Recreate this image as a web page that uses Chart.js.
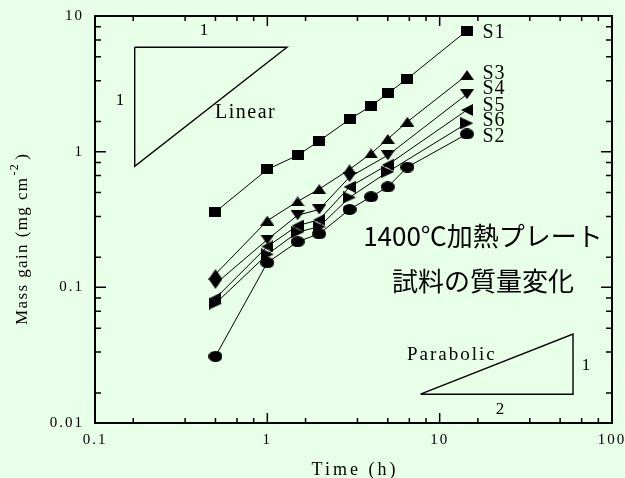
<!DOCTYPE html>
<html><head><meta charset="utf-8">
<script src="https://cdn.jsdelivr.net/npm/chart.js@4/dist/chart.umd.min.js"></script>
<style>html,body{margin:0;padding:0;background:#E8FFE8;overflow:hidden}</style>
</head><body>
<canvas id="c" width="625" height="478" style="width:625px;height:478px;display:block"></canvas>
<script>
// ---- data ----
const timesFull  = [0.5, 1, 1.5, 2, 3, 4, 5, 6.5, 14.4];
const timesShort = [0.5, 1, 1.5, 2, 3, 5, 14.4];
const s1 = [0.36, 0.74, 0.94, 1.20, 1.73, 2.17, 2.69, 3.45, 7.8];
const s2 = [0.031, 0.152, 0.217, 0.248, 0.375, 0.465, 0.55, 0.77, 1.35];
const s3 = [0.125, 0.31, 0.43, 0.53, 0.74, 0.97, 1.24, 1.66, 3.67];
const s4 = [0.106, 0.225, 0.34, 0.375, 0.65, 0.94, 2.65];
const s5 = [0.083, 0.20, 0.285, 0.315, 0.55, 0.80, 2.03];
const s6 = [0.076, 0.175, 0.255, 0.28, 0.46, 0.71, 1.62];
const seriesNames = ['S1', 'S2', 'S3', 'S4', 'S5', 'S6'];
const linearTriX = [0.17, 1.30, 0.17, 0.17];
const linearTriY = [5.88, 5.88, 0.78, 5.88];
const paraTriX = [7.74, 59.4, 59.4, 7.74];
const paraTriY = [0.0163, 0.0163, 0.0452, 0.0163];
const xTickValues = [0.1, 1, 10, 100];
const xTickLabels = ['0.1', '1', '10', '100'];
const yTickValues = [0.01, 0.1, 1, 10];
const yTickLabels = ['0.01', '0.1', '1', '10'];
const minorMults = [5/3, 10/3, 5, 20/3, 25/3];
const titleLine1 = '1400\u2103加熱プレート';
const titleLine2 = '試料の質量変化';

const SERIF = "'Liberation Serif', 'Times New Roman', serif";

function marker(kind, w, h) {
  const c = document.createElement('canvas');
  c.width = w; c.height = h;
  const g = c.getContext('2d');
  g.fillStyle = '#000';
  g.beginPath();
  if (kind === 'square') { g.rect(0, 0, w, h); }
  else if (kind === 'circle') { g.ellipse(w/2, h/2, w/2, h/2, 0, 0, Math.PI*2); }
  else if (kind === 'up') { g.moveTo(w/2, 0); g.lineTo(w, h); g.lineTo(0, h); }
  else if (kind === 'down') { g.moveTo(0, 0); g.lineTo(w, 0); g.lineTo(w/2, h); }
  else if (kind === 'left') { g.moveTo(0, h/2); g.lineTo(w, 0); g.lineTo(w, h); }
  else if (kind === 'right') { g.moveTo(0, 0); g.lineTo(w, h/2); g.lineTo(0, h); }
  g.closePath(); g.fill();
  return c;
}

function pts(xs, ys) { return xs.map((x, i) => ({x: x, y: ys[i]})); }

function series(name, xs, ys, style) {
  return { label: name, data: pts(xs, ys), showLine: true, borderColor: '#000', borderWidth: 1,
           pointStyle: style, pointRadius: 6, pointHoverRadius: 6, fill: false };
}
function guide(xs, ys) {
  return { label: '', data: pts(xs, ys), showLine: true, borderColor: '#000', borderWidth: 1.4,
           pointRadius: 0, pointHoverRadius: 0, fill: false };
}

const annot = {
  id: 'annot',
  beforeDraw(chart) {
    const ctx = chart.ctx;
    ctx.save();
    ctx.fillStyle = '#E8FFE8';
    ctx.fillRect(0, 0, chart.width, chart.height);
    ctx.restore();
    ctx.letterSpacing = '2px';
  },
  afterDraw(chart) {
    const {ctx, chartArea: a, scales: {x, y}} = chart;
    ctx.save();
    ctx.strokeStyle = '#000';
    // frame
    ctx.lineWidth = 2;
    ctx.strokeRect(a.left, a.top, a.right - a.left, a.bottom - a.top);
    // inward ticks
    ctx.lineWidth = 1.5;
    ctx.beginPath();
    const xt = [];
    for (let d = -1; d <= 2; d++) { xt.push([Math.pow(10, d), 10]); if (d < 2) minorMults.forEach(m => xt.push([m * Math.pow(10, d), 5])); }
    xt.forEach(([v, len]) => {
      const px = x.getPixelForValue(v);
      ctx.moveTo(px, a.bottom); ctx.lineTo(px, a.bottom - len);
      ctx.moveTo(px, a.top); ctx.lineTo(px, a.top + len);
    });
    const yt = [];
    for (let d = -2; d <= 1; d++) { yt.push([Math.pow(10, d), 11]); if (d < 1) minorMults.forEach(m => yt.push([m * Math.pow(10, d), 6])); }
    yt.forEach(([v, len]) => {
      const py = y.getPixelForValue(v);
      ctx.moveTo(a.left, py); ctx.lineTo(a.left + len, py);
      ctx.moveTo(a.right, py); ctx.lineTo(a.right - len, py);
    });
    ctx.stroke();

    ctx.fillStyle = '#000';
    ctx.textBaseline = 'alphabetic';
    // x title
    ctx.font = '18px ' + SERIF; ctx.letterSpacing = '3px'; ctx.textAlign = 'center';
    ctx.fillText('Time (h)', (a.left + a.right) / 2 + 1.5, 475);
    // y title with superscript
    ctx.save();
    ctx.translate(27, 325); ctx.rotate(-Math.PI / 2);
    ctx.textAlign = 'left';
    ctx.font = '17px ' + SERIF; ctx.letterSpacing = '1.4px';
    const t1 = 'Mass gain (mg cm';
    ctx.fillText(t1, 0, 0);
    const w1 = ctx.measureText(t1).width;
    ctx.font = '12px ' + SERIF;
    ctx.fillText('-2', w1 + 1, -9.5);
    const w2 = ctx.measureText('-2').width;
    ctx.font = '17px ' + SERIF;
    ctx.fillText(')', w1 + w2 + 4, 0);
    ctx.restore();

    // guide triangle labels
    ctx.letterSpacing = '0px';
    ctx.textAlign = 'center'; ctx.textBaseline = 'middle';
    ctx.font = '17px ' + SERIF;
    ctx.fillText('1', 204, 31);
    ctx.fillText('1', 120, 101);
    ctx.fillText('1', 586, 366);
    ctx.fillText('2', 500, 410);
    ctx.textAlign = 'left'; ctx.textBaseline = 'alphabetic';
    ctx.font = '20px ' + SERIF; ctx.letterSpacing = '1.5px';
    ctx.fillText('Linear', 215, 118);
    ctx.font = '19px ' + SERIF; ctx.letterSpacing = '2px';
    ctx.fillText('Parabolic', 407, 360);
    // series labels
    ctx.font = '20px ' + SERIF; ctx.letterSpacing = '1px';
    const labelY = {S1: 38, S3: 79, S4: 94, S5: 110.5, S6: 126, S2: 141.5};
    Object.keys(labelY).forEach(k => ctx.fillText(k, 482.5, labelY[k]));
    // Japanese caption
    ctx.letterSpacing = '0px';
    ctx.textAlign = 'center'; ctx.textBaseline = 'middle';
    ctx.font = "26px 'Noto Sans CJK JP', sans-serif";
    ctx.fillText(titleLine1, 483, 236);
    ctx.fillText(titleLine2, 483, 281);
    ctx.restore();
  }
};

new Chart(document.getElementById('c'), {
  type: 'scatter',
  data: {
    datasets: [
      series(seriesNames[0], timesFull, s1, marker('square', 12, 10)),
      series(seriesNames[1], timesFull, s2, marker('circle', 14, 11)),
      series(seriesNames[2], timesFull, s3, marker('up', 14, 10)),
      series(seriesNames[3], timesShort, s4, marker('down', 14, 10)),
      series(seriesNames[4], timesShort, s5, marker('left', 12, 12)),
      series(seriesNames[5], timesShort, s6, marker('right', 13, 12)),
      guide(linearTriX, linearTriY),
      guide(paraTriX, paraTriY)
    ]
  },
  options: {
    responsive: false, animation: false, devicePixelRatio: 1,
    layout: { padding: { top: 16, right: 13, left: 0, bottom: 0 } },
    plugins: { legend: { display: false }, tooltip: { enabled: false } },
    scales: {
      x: {
        type: 'logarithmic', position: 'bottom', min: 0.1, max: 100,
        afterBuildTicks: s => { s.ticks = xTickValues.map(v => ({ value: v })); },
        ticks: { callback: (v, i) => xTickLabels[i], autoSkip: false, maxRotation: 0,
                 color: '#000', padding: 8, font: { family: SERIF, size: 15 } },
        grid: { display: false, drawTicks: false }, border: { display: false },
        afterFit: s => { s.height = 55; s.paddingLeft = 0; s.paddingRight = 0; }
      },
      y: {
        type: 'logarithmic', position: 'left', min: 0.01, max: 10,
        afterBuildTicks: s => { s.ticks = yTickValues.map(v => ({ value: v })); },
        ticks: { callback: (v, i) => yTickLabels[i], autoSkip: false,
                 color: '#000', padding: 11, font: { family: SERIF, size: 15 } },
        grid: { display: false, drawTicks: false }, border: { display: false },
        afterFit: s => { s.width = 95; s.paddingTop = 0; s.paddingBottom = 0; }
      }
    }
  },
  plugins: [annot]
});
</script>
</body></html>
